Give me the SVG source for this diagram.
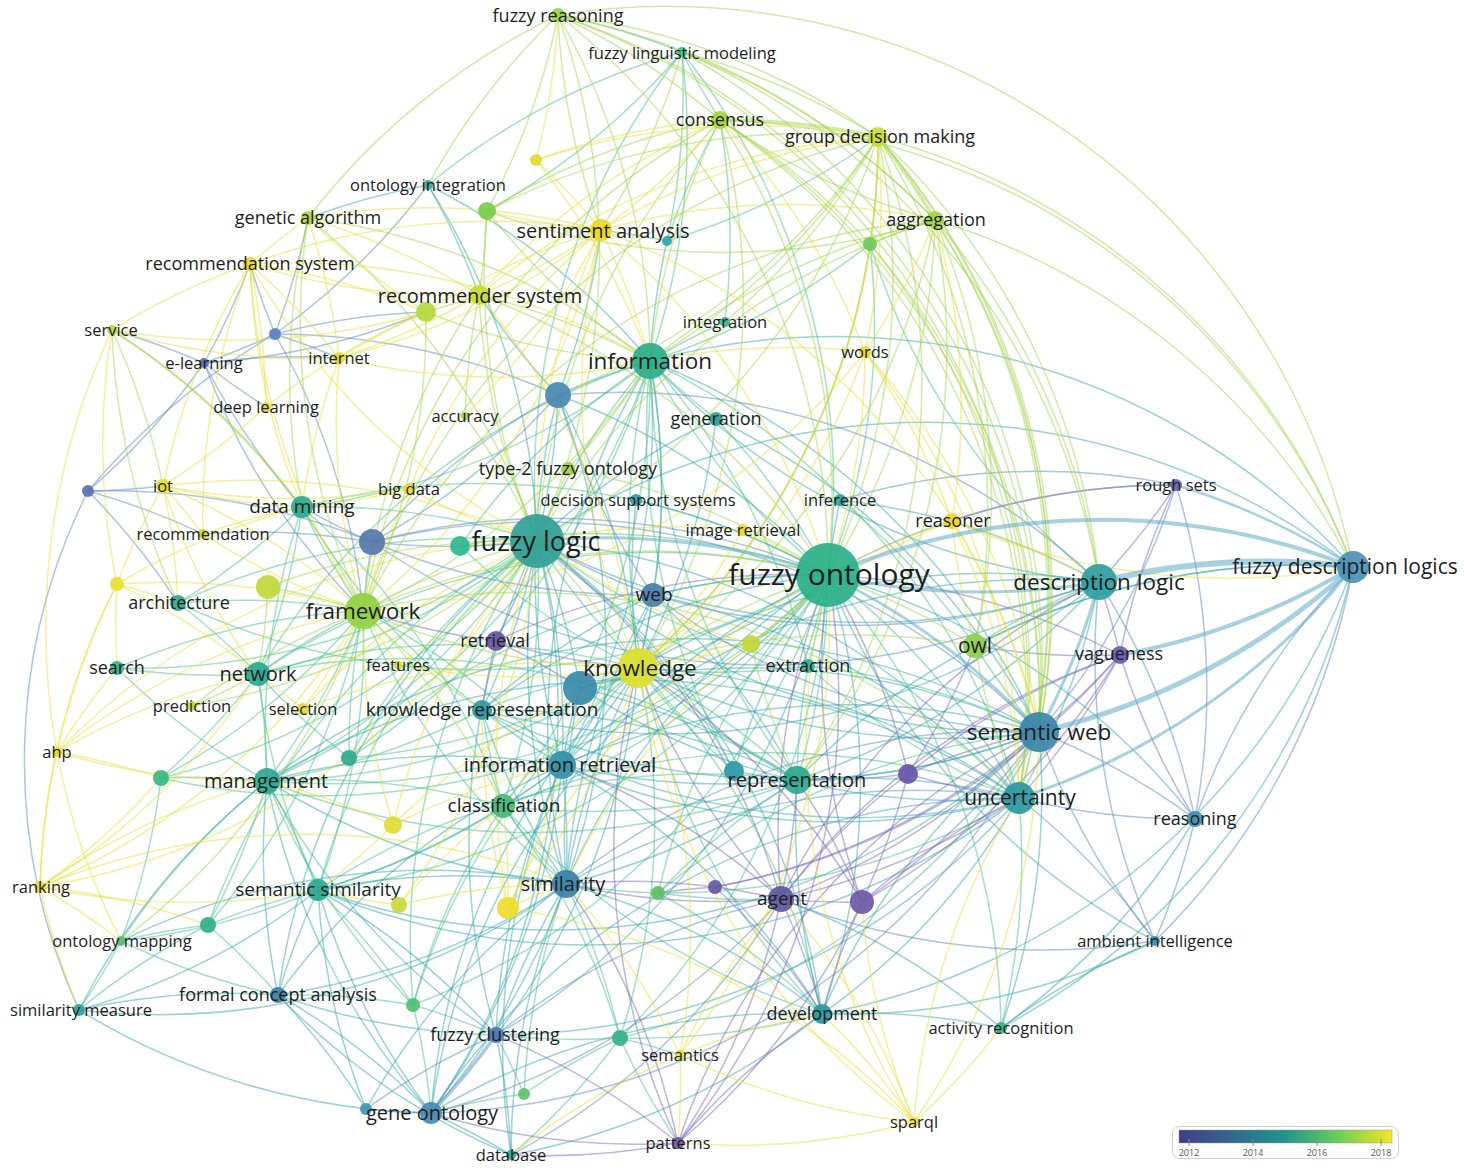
<svg xmlns="http://www.w3.org/2000/svg" width="1464" height="1175" viewBox="0 0 1464 1175">
<defs>
<linearGradient id="vir" x1="0" x2="1" y1="0" y2="0">
<stop offset="0" stop-color="#433e85"/><stop offset="0.25" stop-color="#31688e"/><stop offset="0.5" stop-color="#1f968b"/><stop offset="0.75" stop-color="#6ccd5a"/><stop offset="1" stop-color="#f6e620"/>
</linearGradient>
<style>
text{font-family:"Open Sans","Noto Sans","DejaVu Sans",sans-serif;fill:#1e1e1e;text-anchor:middle;dominant-baseline:central}
.s17{font-size:16.5px}.s18{font-size:18px}.s19{font-size:19px}.s20{font-size:20px}.s21{font-size:21px}.s22{font-size:22.5px}.s27{font-size:27px}.s30{font-size:30px}
#edges path{fill:none;stroke-width:1.5;stroke-opacity:.5}
#edges .p path{stroke:#7c6cbc}#edges .b path{stroke:#5d8cc2}#edges .t path{stroke:#3aa8ae}#edges .g path{stroke:#4cc28e}#edges .l path{stroke:#a2d650}#edges .y path{stroke:#e6e23c}
#edges .k path{stroke:#5eacc8;stroke-opacity:.55}
circle{fill-opacity:.92}
.leg{font-size:9px;fill:#555}
</style>
</defs>
<rect width="1464" height="1175" fill="#fff"/>
<g id="edges">
<g class="g">
<path d="M828 575A700 700 0 0 1 797 780"/><path d="M828 575A700 700 0 0 1 650 361"/><path d="M716 419A700 700 0 0 1 828 575"/><path d="M828 575A700 700 0 0 1 267 781"/><path d="M258 674A700 700 0 0 1 828 575"/><path d="M302 507A700 700 0 0 1 828 575"/><path d="M828 575A700 700 0 0 1 503 806"/><path d="M828 575A700 700 0 0 1 808 666"/><path d="M682 52A700 700 0 0 1 828 575"/><path d="M870 244A700 700 0 0 1 828 575"/><path d="M828 575A700 700 0 0 1 318 890"/><path d="M828 575A700 700 0 0 1 620 1038"/><path d="M828 575A700 700 0 0 1 1001 1028"/>
<path d="M537 541A700 700 0 0 1 650 361"/><path d="M302 507A700 700 0 0 1 537 541"/><path d="M537 541A700 700 0 0 1 258 674"/><path d="M537 541A700 700 0 0 1 267 781"/><path d="M797 780A700 700 0 0 1 537 541"/><path d="M537 541A700 700 0 0 1 503 806"/><path d="M318 890A700 700 0 0 1 537 541"/><path d="M537 541A700 700 0 0 1 460 546"/><path d="M178 603A700 700 0 0 1 537 541"/><path d="M537 541A700 700 0 0 1 682 52"/><path d="M413 1005A700 700 0 0 1 537 541"/><path d="M537 541A700 700 0 0 1 117 668"/><path d="M349 758A700 700 0 0 1 537 541"/><path d="M537 541A700 700 0 0 1 161 778"/><path d="M208 925A700 700 0 0 1 537 541"/>
<path d="M650 361A700 700 0 0 1 638 668"/><path d="M682 52A700 700 0 0 1 650 361"/><path d="M650 361A700 700 0 0 1 725 322"/><path d="M716 419A700 700 0 0 1 650 361"/><path d="M650 361A700 700 0 0 1 302 507"/><path d="M797 780A700 700 0 0 1 650 361"/><path d="M650 361A700 700 0 0 1 1019 798"/><path d="M870 244A700 700 0 0 1 650 361"/><path d="M650 361A700 700 0 0 1 267 781"/><path d="M258 674A700 700 0 0 1 650 361"/><path d="M650 361A700 700 0 0 1 503 806"/><path d="M822 1014A700 700 0 0 1 650 361"/>
<path d="M638 668A700 700 0 0 1 797 780"/><path d="M482 710A700 700 0 0 1 638 668"/><path d="M638 668A700 700 0 0 1 267 781"/><path d="M258 674A700 700 0 0 1 638 668"/><path d="M638 668A700 700 0 0 1 822 1014"/><path d="M808 666A700 700 0 0 1 638 668"/><path d="M638 668A700 700 0 0 1 620 1038"/>
<path d="M1039 732A700 700 0 0 1 975 646"/><path d="M975 646A700 700 0 0 1 1099 582"/><path d="M1099 582A700 700 0 0 1 870 244"/><path d="M1019 798A700 700 0 0 1 1001 1028"/><path d="M503 806A700 700 0 0 1 1019 798"/>
<path d="M363 611A700 700 0 0 1 302 507"/><path d="M258 674A700 700 0 0 1 363 611"/><path d="M363 611A700 700 0 0 1 267 781"/><path d="M178 603A700 700 0 0 1 363 611"/><path d="M363 611A700 700 0 0 1 562 765"/><path d="M566 884A700 700 0 0 1 363 611"/><path d="M363 611A700 700 0 0 1 318 890"/><path d="M117 668A700 700 0 0 1 363 611"/><path d="M363 611A700 700 0 0 1 161 778"/><path d="M349 758A700 700 0 0 1 363 611"/><path d="M363 611A700 700 0 0 1 208 925"/>
<path d="M302 507A700 700 0 0 1 258 674"/><path d="M267 781A700 700 0 0 1 302 507"/><path d="M302 507A700 700 0 0 1 178 603"/><path d="M482 710A700 700 0 0 1 302 507"/><path d="M302 507A700 700 0 0 1 503 806"/><path d="M258 674A700 700 0 0 1 267 781"/><path d="M178 603A700 700 0 0 1 258 674"/><path d="M258 674A700 700 0 0 1 117 668"/><path d="M318 890A700 700 0 0 1 258 674"/><path d="M258 674A700 700 0 0 1 161 778"/><path d="M349 758A700 700 0 0 1 258 674"/>
<path d="M267 781A700 700 0 0 1 318 890"/><path d="M161 778A700 700 0 0 1 267 781"/><path d="M267 781A700 700 0 0 1 208 925"/><path d="M121 941A700 700 0 0 1 267 781"/><path d="M267 781A700 700 0 0 1 503 806"/><path d="M482 710A700 700 0 0 1 267 781"/><path d="M267 781A700 700 0 0 1 117 668"/><path d="M413 1005A700 700 0 0 1 267 781"/>
<path d="M318 890A700 700 0 0 1 121 941"/><path d="M208 925A700 700 0 0 1 318 890"/><path d="M318 890A700 700 0 0 1 413 1005"/><path d="M503 806A700 700 0 0 1 318 890"/><path d="M566 884A700 700 0 0 1 620 1038"/><path d="M524 1094A700 700 0 0 1 566 884"/><path d="M566 884A700 700 0 0 1 503 806"/><path d="M658 893A700 700 0 0 1 566 884"/><path d="M562 765A700 700 0 0 1 503 806"/><path d="M797 780A700 700 0 0 1 808 666"/><path d="M658 893A700 700 0 0 1 797 780"/>
<path d="M720 120A700 700 0 0 1 682 52"/><path d="M667 241A700 700 0 0 1 720 120"/><path d="M720 120A700 700 0 0 1 725 322"/><path d="M878 137A700 700 0 0 1 667 241"/><path d="M558 15A700 700 0 0 1 682 52"/><path d="M682 52A700 700 0 0 1 487 211"/><path d="M428 185A700 700 0 0 1 682 52"/><path d="M682 52A700 700 0 0 1 667 241"/><path d="M601 230A700 700 0 0 1 667 241"/>
<path d="M121 941A700 700 0 0 1 79 1010"/><path d="M278 995A700 700 0 0 1 121 941"/><path d="M121 941A700 700 0 0 1 208 925"/><path d="M161 778A700 700 0 0 1 121 941"/><path d="M79 1010A700 700 0 0 1 208 925"/><path d="M278 995A700 700 0 0 1 413 1005"/><path d="M208 925A700 700 0 0 1 278 995"/><path d="M496 1035A700 700 0 0 1 524 1094"/><path d="M413 1005A700 700 0 0 1 496 1035"/><path d="M620 1038A700 700 0 0 1 496 1035"/><path d="M431 1113A700 700 0 0 1 524 1094"/><path d="M413 1005A700 700 0 0 1 431 1113"/><path d="M620 1038A700 700 0 0 1 680 1055"/><path d="M678 1143A700 700 0 0 1 620 1038"/><path d="M620 1038A700 700 0 0 1 511 1155"/><path d="M524 1094A700 700 0 0 1 620 1038"/><path d="M840 500A700 700 0 0 1 975 646"/><path d="M822 1014A700 700 0 0 1 620 1038"/><path d="M781 899A700 700 0 0 1 658 893"/>
<path d="M658 893A700 700 0 0 1 828 575"/><path d="M828 575A700 700 0 0 1 413 1005"/><path d="M460 546A700 700 0 0 1 828 575"/><path d="M828 575A700 700 0 0 1 161 778"/><path d="M349 758A700 700 0 0 1 828 575"/><path d="M828 575A700 700 0 0 1 178 603"/><path d="M650 361A700 700 0 0 1 349 758"/><path d="M460 546A700 700 0 0 1 650 361"/><path d="M638 668A700 700 0 0 1 460 546"/><path d="M413 1005A700 700 0 0 1 638 668"/><path d="M638 668A700 700 0 0 1 349 758"/><path d="M797 780A700 700 0 0 1 267 781"/><path d="M258 674A700 700 0 0 1 797 780"/><path d="M797 780A700 700 0 0 1 503 806"/><path d="M318 890A700 700 0 0 1 797 780"/><path d="M503 806A700 700 0 0 1 482 710"/><path d="M413 1005A700 700 0 0 1 503 806"/><path d="M503 806A700 700 0 0 1 620 1038"/><path d="M1019 798A700 700 0 0 1 658 893"/><path d="M658 893A700 700 0 0 1 1039 732"/><path d="M1039 732A700 700 0 0 1 620 1038"/><path d="M822 1014A700 700 0 0 1 503 806"/><path d="M658 893A700 700 0 0 1 822 1014"/><path d="M734 771A700 700 0 0 1 638 668"/><path d="M537 541A700 700 0 0 1 734 771"/><path d="M734 771A700 700 0 0 1 650 361"/><path d="M808 666A700 700 0 0 1 537 541"/><path d="M650 361A700 700 0 0 1 808 666"/><path d="M808 666A700 700 0 0 1 1039 732"/><path d="M1019 798A700 700 0 0 1 808 666"/>
</g>
<g class="t">
<path d="M653 595A700 700 0 0 1 828 575"/><path d="M828 575A700 700 0 0 1 822 1014"/><path d="M566 884A700 700 0 0 1 828 575"/><path d="M828 575A700 700 0 0 1 562 765"/><path d="M482 710A700 700 0 0 1 828 575"/><path d="M828 575A700 700 0 0 1 1195 819"/><path d="M1155 941A700 700 0 0 1 828 575"/><path d="M558 395A700 700 0 0 1 828 575"/><path d="M828 575A700 700 0 0 1 580 688"/><path d="M828 575A700 700 0 0 1 840 500"/><path d="M431 1113A700 700 0 0 1 828 575"/><path d="M828 575A700 700 0 0 1 496 1035"/><path d="M734 771A700 700 0 0 1 828 575"/><path d="M828 575A700 700 0 0 1 1019 798"/>
<path d="M537 541A700 700 0 0 1 562 765"/><path d="M566 884A700 700 0 0 1 537 541"/><path d="M537 541A700 700 0 0 1 482 710"/><path d="M1039 732A700 700 0 0 1 537 541"/><path d="M537 541A700 700 0 0 1 1019 798"/><path d="M1099 582A700 700 0 0 1 537 541"/><path d="M537 541A700 700 0 0 1 822 1014"/><path d="M558 395A700 700 0 0 1 537 541"/><path d="M537 541A700 700 0 0 1 580 688"/><path d="M496 1035A700 700 0 0 1 537 541"/><path d="M537 541A700 700 0 0 1 431 1113"/><path d="M278 995A700 700 0 0 1 537 541"/><path d="M428 185A700 700 0 0 1 537 541"/>
<path d="M650 361A700 700 0 0 1 667 241"/><path d="M558 395A700 700 0 0 1 650 361"/><path d="M650 361A700 700 0 0 1 1039 732"/><path d="M1099 582A700 700 0 0 1 650 361"/><path d="M650 361A700 700 0 0 1 562 765"/><path d="M566 884A700 700 0 0 1 650 361"/><path d="M650 361A700 700 0 0 1 653 595"/><path d="M428 185A700 700 0 0 1 650 361"/>
<path d="M638 668A700 700 0 0 1 562 765"/><path d="M1039 732A700 700 0 0 1 638 668"/><path d="M638 668A700 700 0 0 1 1019 798"/><path d="M566 884A700 700 0 0 1 638 668"/><path d="M653 595A700 700 0 0 1 638 668"/><path d="M638 668A700 700 0 0 1 580 688"/><path d="M638 668A700 700 0 0 1 1099 582"/><path d="M431 1113A700 700 0 0 1 638 668"/><path d="M638 668A700 700 0 0 1 496 1035"/>
<path d="M1039 732A700 700 0 0 1 797 780"/><path d="M822 1014A700 700 0 0 1 1039 732"/><path d="M1039 732A700 700 0 0 1 1001 1028"/><path d="M562 765A700 700 0 0 1 1039 732"/><path d="M1039 732A700 700 0 0 1 482 710"/><path d="M267 781A700 700 0 0 1 1039 732"/><path d="M1039 732A700 700 0 0 1 318 890"/>
<path d="M1099 582A700 700 0 0 1 1019 798"/><path d="M840 500A700 700 0 0 1 1099 582"/><path d="M1099 582A700 700 0 0 1 482 710"/><path d="M562 765A700 700 0 0 1 1099 582"/><path d="M1099 582A700 700 0 0 1 797 780"/>
<path d="M975 646A700 700 0 0 1 1353 567"/><path d="M1353 567A700 700 0 0 0 650 361"/><path d="M1353 567A700 700 0 0 0 537 541"/><path d="M797 780A700 700 0 0 1 1353 567"/><path d="M1353 567A700 700 0 0 1 1001 1028"/><path d="M1353 567A700 700 0 0 1 822 1014"/>
<path d="M1019 798A700 700 0 0 1 822 1014"/><path d="M797 780A700 700 0 0 1 1019 798"/><path d="M1019 798A700 700 0 0 1 562 765"/><path d="M566 884A700 700 0 0 1 1019 798"/><path d="M1019 798A700 700 0 0 1 482 710"/><path d="M267 781A700 700 0 0 1 1019 798"/><path d="M1019 798A700 700 0 0 1 318 890"/><path d="M431 1113A700 700 0 0 1 1019 798"/><path d="M1019 798A700 700 0 0 1 496 1035"/>
<path d="M267 781A700 700 0 0 0 79 1010"/><path d="M278 995A700 700 0 0 1 267 781"/><path d="M267 781A700 700 0 0 1 562 765"/><path d="M566 884A700 700 0 0 1 267 781"/><path d="M267 781A700 700 0 0 0 431 1113"/><path d="M496 1035A700 700 0 0 1 267 781"/>
<path d="M318 890A700 700 0 0 1 566 884"/><path d="M278 995A700 700 0 0 1 318 890"/><path d="M318 890A700 700 0 0 1 79 1010"/><path d="M431 1113A700 700 0 0 1 318 890"/><path d="M318 890A700 700 0 0 1 496 1035"/><path d="M562 765A700 700 0 0 1 318 890"/><path d="M366 1109A700 700 0 0 1 318 890"/>
<path d="M566 884A700 700 0 0 1 278 995"/><path d="M496 1035A700 700 0 0 1 566 884"/><path d="M566 884A700 700 0 0 1 431 1113"/><path d="M511 1155A700 700 0 0 1 566 884"/><path d="M566 884A700 700 0 0 1 822 1014"/><path d="M562 765A700 700 0 0 1 566 884"/><path d="M797 780A700 700 0 0 1 566 884"/><path d="M566 884A700 700 0 0 1 79 1010"/><path d="M121 941A700 700 0 0 1 566 884"/><path d="M566 884A700 700 0 0 1 482 710"/><path d="M366 1109A700 700 0 0 1 566 884"/>
<path d="M562 765A700 700 0 0 1 482 710"/><path d="M797 780A700 700 0 0 1 562 765"/><path d="M562 765A700 700 0 0 1 580 688"/><path d="M496 1035A700 700 0 0 1 562 765"/><path d="M562 765A700 700 0 0 1 431 1113"/><path d="M511 1155A700 700 0 0 1 562 765"/><path d="M562 765A700 700 0 0 1 822 1014"/><path d="M278 995A700 700 0 0 1 562 765"/>
<path d="M781 899A700 700 0 0 1 1001 1028"/><path d="M822 1014A700 700 0 0 1 1001 1028"/><path d="M1155 941A700 700 0 0 1 822 1014"/><path d="M822 1014A700 700 0 0 1 797 780"/><path d="M431 1113A700 700 0 0 1 822 1014"/><path d="M822 1014A700 700 0 0 1 511 1155"/><path d="M797 780A700 700 0 0 1 734 771"/><path d="M482 710A700 700 0 0 1 797 780"/>
<path d="M308 218A700 700 0 0 1 428 185"/><path d="M428 185A700 700 0 0 1 479 295"/><path d="M601 230A700 700 0 0 1 558 395"/><path d="M558 395A700 700 0 0 1 479 295"/>
<path d="M79 1010A700 700 0 0 1 278 995"/><path d="M79 1010A700 700 0 0 0 431 1113"/><path d="M278 995A700 700 0 0 1 431 1113"/><path d="M496 1035A700 700 0 0 1 278 995"/><path d="M278 995A700 700 0 0 1 366 1109"/><path d="M511 1155A700 700 0 0 1 278 995"/><path d="M496 1035A700 700 0 0 1 511 1155"/><path d="M431 1113A700 700 0 0 1 511 1155"/><path d="M1001 1028A700 700 0 0 1 1155 941"/><path d="M1195 819A700 700 0 0 1 1001 1028"/>
<path d="M580 688A700 700 0 0 1 1039 732"/><path d="M1019 798A700 700 0 0 1 580 688"/><path d="M580 688A700 700 0 0 1 797 780"/><path d="M566 884A700 700 0 0 1 580 688"/><path d="M558 395A700 700 0 0 1 638 668"/><path d="M562 765A700 700 0 0 1 558 395"/><path d="M558 395A700 700 0 0 1 566 884"/><path d="M653 595A700 700 0 0 1 797 780"/><path d="M566 884A700 700 0 0 1 653 595"/><path d="M653 595A700 700 0 0 1 562 765"/><path d="M482 710A700 700 0 0 1 653 595"/><path d="M653 595A700 700 0 0 1 1019 798"/><path d="M636 500A700 700 0 0 1 828 575"/><path d="M638 668A700 700 0 0 1 636 500"/><path d="M716 419A700 700 0 0 1 638 668"/><path d="M537 541A700 700 0 0 1 716 419"/><path d="M716 419A700 700 0 0 1 1039 732"/>
</g>
<g class="b">
<path d="M828 575A700 700 0 0 1 1176 485"/><path d="M372 542A700 700 0 0 1 828 575"/><path d="M537 541A700 700 0 0 1 372 542"/><path d="M653 595A700 700 0 0 1 537 541"/><path d="M1039 732A700 700 0 0 1 1195 819"/><path d="M1155 941A700 700 0 0 1 1039 732"/><path d="M1039 732A700 700 0 0 0 1176 485"/><path d="M566 884A700 700 0 0 1 1039 732"/><path d="M1039 732A700 700 0 0 1 653 595"/><path d="M372 542A700 700 0 0 1 1039 732"/><path d="M1039 732A700 700 0 0 1 431 1113"/>
<path d="M1099 582A700 700 0 0 1 1195 819"/><path d="M1155 941A700 700 0 0 1 1099 582"/><path d="M1099 582A700 700 0 0 1 653 595"/><path d="M558 395A700 700 0 0 1 1099 582"/><path d="M1099 582A700 700 0 0 1 372 542"/><path d="M1195 819A700 700 0 0 1 1353 567"/><path d="M1353 567A700 700 0 0 1 1155 941"/><path d="M1195 819A700 700 0 0 1 1019 798"/><path d="M1019 798A700 700 0 0 1 1155 941"/>
<path d="M363 611A700 700 0 0 1 372 542"/><path d="M372 542A700 700 0 0 1 302 507"/><path d="M302 507A700 700 0 0 1 204 363"/><path d="M1155 941A700 700 0 0 1 781 899"/><path d="M781 899A700 700 0 0 1 431 1113"/><path d="M496 1035A700 700 0 0 1 781 899"/><path d="M781 899A700 700 0 0 1 511 1155"/><path d="M366 1109A700 700 0 0 1 496 1035"/><path d="M431 1113A700 700 0 0 1 366 1109"/><path d="M1195 819A700 700 0 0 1 1155 941"/><path d="M1176 485A700 700 0 0 1 1195 819"/><path d="M840 500A700 700 0 0 1 1176 485"/>
<path d="M275 334A700 700 0 0 1 204 363"/><path d="M88 491A700 700 0 0 1 275 334"/><path d="M275 334A700 700 0 0 1 339 358"/><path d="M428 185A700 700 0 0 1 275 334"/><path d="M275 334A700 700 0 0 1 558 395"/><path d="M204 363A700 700 0 0 1 88 491"/><path d="M266 407A700 700 0 0 1 204 363"/><path d="M204 363A700 700 0 0 1 339 358"/><path d="M112 330A700 700 0 0 1 204 363"/><path d="M88 491A700 700 0 0 1 203 534"/><path d="M163 486A700 700 0 0 1 88 491"/><path d="M88 491A700 700 0 0 1 372 542"/><path d="M88 491A700 700 0 0 1 178 603"/><path d="M88 491A600 600 0 0 0 79 1010"/>
<path d="M426 312A700 700 0 0 1 204 363"/><path d="M275 334A700 700 0 0 1 426 312"/><path d="M250 264A700 700 0 0 1 204 363"/><path d="M275 334A700 700 0 0 1 250 264"/><path d="M308 218A700 700 0 0 1 275 334"/><path d="M363 611A700 700 0 0 1 204 363"/><path d="M275 334A700 700 0 0 1 363 611"/><path d="M372 542A700 700 0 0 1 558 395"/><path d="M653 595A700 700 0 0 1 372 542"/><path d="M203 534A700 700 0 0 1 372 542"/><path d="M653 595A700 700 0 0 1 558 395"/><path d="M558 395A700 700 0 0 1 372 542"/>
<path d="M496 1035A700 700 0 0 1 431 1113" style="stroke-width:3.5"/>
</g>
<g class="p">
<path d="M828 575A700 700 0 0 1 1120 655"/><path d="M781 899A700 700 0 0 1 828 575"/><path d="M828 575A700 700 0 0 1 908 774"/><path d="M862 902A700 700 0 0 1 828 575"/><path d="M828 575A700 700 0 0 1 678 1143"/><path d="M496 641A700 700 0 0 1 828 575"/><path d="M537 541A700 700 0 0 1 781 899"/><path d="M781 899A700 700 0 0 1 638 668"/><path d="M638 668A700 700 0 0 1 496 641"/><path d="M678 1143A700 700 0 0 1 638 668"/><path d="M638 668A700 700 0 0 1 862 902"/>
<path d="M1120 655A700 700 0 0 1 1039 732"/><path d="M1039 732A700 700 0 0 1 781 899"/><path d="M908 774A700 700 0 0 1 1039 732"/><path d="M1039 732A700 700 0 0 1 862 902"/><path d="M678 1143A700 700 0 0 1 1039 732"/><path d="M1099 582A700 700 0 0 1 1120 655"/><path d="M1176 485A700 700 0 0 1 1099 582"/><path d="M781 899A700 700 0 0 1 1099 582"/><path d="M1019 798A700 700 0 0 1 781 899"/><path d="M1120 655A700 700 0 0 1 1019 798"/><path d="M1019 798A700 700 0 0 1 908 774"/><path d="M862 902A700 700 0 0 1 1019 798"/>
<path d="M566 884A700 700 0 0 1 678 1143"/><path d="M781 899A700 700 0 0 1 566 884"/><path d="M566 884A700 700 0 0 1 715 887"/><path d="M562 765A700 700 0 0 1 781 899"/><path d="M781 899A700 700 0 0 1 822 1014"/><path d="M862 902A700 700 0 0 1 781 899"/><path d="M715 887A700 700 0 0 1 781 899"/><path d="M781 899A700 700 0 0 1 678 1143"/><path d="M797 780A700 700 0 0 1 781 899"/><path d="M781 899A700 700 0 0 1 908 774"/><path d="M908 774A700 700 0 0 1 797 780"/><path d="M797 780A700 700 0 0 1 862 902"/><path d="M678 1143A700 700 0 0 1 822 1014"/><path d="M822 1014A700 700 0 0 1 862 902"/><path d="M496 1035A700 700 0 0 1 678 1143"/><path d="M431 1113A700 700 0 0 0 678 1143"/><path d="M511 1155A700 700 0 0 0 678 1143"/><path d="M862 902A700 700 0 0 1 678 1143"/>
<path d="M1195 819A700 700 0 0 1 1120 655"/><path d="M1120 655A700 700 0 0 1 1176 485"/><path d="M908 774A700 700 0 0 1 1120 655"/><path d="M1120 655A700 700 0 0 1 975 646"/><path d="M1120 655A700 700 0 0 1 862 902"/><path d="M781 899A700 700 0 0 1 1120 655"/><path d="M975 646A700 700 0 0 1 908 774"/><path d="M952 521A700 700 0 0 1 1176 485"/><path d="M537 541A700 700 0 0 1 496 641"/><path d="M496 641A700 700 0 0 1 580 688"/><path d="M482 710A700 700 0 0 1 496 641"/><path d="M496 641A700 700 0 0 1 363 611"/><path d="M658 893A700 700 0 0 1 715 887"/><path d="M715 887A700 700 0 0 1 822 1014"/><path d="M908 774A700 700 0 0 1 862 902"/><path d="M1039 732A700 700 0 0 1 715 887"/><path d="M1120 655A700 700 0 0 1 715 887"/>
</g>
<g class="l">
<path d="M828 575A700 700 0 0 1 975 646"/><path d="M638 668A700 700 0 0 1 828 575"/><path d="M828 575A700 700 0 0 0 878 137"/><path d="M935 220A700 700 0 0 1 828 575"/><path d="M828 575A700 700 0 0 0 720 120"/><path d="M363 611A700 700 0 0 1 828 575"/><path d="M828 575A700 700 0 0 0 558 15"/><path d="M479 295A700 700 0 0 1 828 575"/><path d="M828 575A700 700 0 0 1 751 644"/>
<path d="M537 541A700 700 0 0 1 638 668"/><path d="M363 611A700 700 0 0 1 537 541"/><path d="M537 541A700 700 0 0 1 479 295"/><path d="M308 218A700 700 0 0 1 537 541"/><path d="M537 541A700 700 0 0 1 720 120"/><path d="M878 137A700 700 0 0 1 537 541"/><path d="M537 541A700 700 0 0 1 935 220"/><path d="M268 587A700 700 0 0 1 537 541"/><path d="M558 15A700 700 0 0 1 537 541"/><path d="M537 541A700 700 0 0 1 487 211"/><path d="M465 416A700 700 0 0 1 537 541"/><path d="M537 541A700 700 0 0 1 192 706"/>
<path d="M650 361A700 700 0 0 1 720 120"/><path d="M878 137A700 700 0 0 1 650 361"/><path d="M650 361A700 700 0 0 1 935 220"/><path d="M558 15A700 700 0 0 1 650 361"/><path d="M650 361A700 700 0 0 1 487 211"/><path d="M479 295A700 700 0 0 1 650 361"/><path d="M650 361A700 700 0 0 1 426 312"/><path d="M308 218A700 700 0 0 1 650 361"/><path d="M650 361A700 700 0 0 1 363 611"/><path d="M638 668A700 700 0 0 1 363 611"/><path d="M503 806A700 700 0 0 1 638 668"/><path d="M638 668A700 700 0 0 1 975 646"/>
<path d="M1039 732A700 700 0 0 0 558 15"/><path d="M1099 582A700 700 0 0 0 878 137"/><path d="M935 220A700 700 0 0 1 1099 582"/><path d="M1019 798A700 700 0 0 1 975 646"/><path d="M363 611A700 700 0 0 1 1019 798"/>
<path d="M268 587A700 700 0 0 1 363 611"/><path d="M363 611A700 700 0 0 1 308 218"/><path d="M426 312A700 700 0 0 1 363 611"/><path d="M363 611A700 700 0 0 1 479 295"/><path d="M482 710A700 700 0 0 1 363 611"/><path d="M363 611A700 700 0 0 1 503 806"/><path d="M192 706A700 700 0 0 1 363 611"/><path d="M363 611A700 700 0 0 1 121 941"/><path d="M112 330A700 700 0 0 1 363 611"/><path d="M302 507A700 700 0 0 1 308 218"/><path d="M112 330A700 700 0 0 1 302 507"/><path d="M258 674A700 700 0 0 1 192 706"/><path d="M268 587A700 700 0 0 1 258 674"/><path d="M797 780A700 700 0 0 1 751 644"/>
<path d="M878 137A700 700 0 0 1 870 244"/><path d="M682 52A700 700 0 0 1 878 137"/><path d="M878 137A700 700 0 0 0 558 15"/><path d="M975 646A700 700 0 0 0 878 137"/><path d="M878 137A700 700 0 0 1 725 322"/><path d="M487 211A700 700 0 0 1 878 137"/><path d="M878 137A700 700 0 0 1 558 395"/><path d="M935 220A700 700 0 0 1 720 120"/><path d="M720 120A700 700 0 0 0 558 15"/><path d="M720 120A700 700 0 0 1 870 244"/><path d="M487 211A700 700 0 0 1 720 120"/><path d="M870 244A700 700 0 0 1 935 220"/><path d="M935 220A700 700 0 0 0 682 52"/><path d="M975 646A700 700 0 0 0 935 220"/><path d="M935 220A700 700 0 0 0 558 15"/><path d="M935 220A700 700 0 0 1 487 211"/>
<path d="M558 15A700 700 0 0 1 487 211"/><path d="M428 185A700 700 0 0 1 558 15"/><path d="M558 15A700 700 0 0 0 308 218"/><path d="M601 230A700 700 0 0 1 558 15"/><path d="M682 52A700 700 0 0 1 601 230"/><path d="M479 295A700 700 0 0 1 426 312"/><path d="M487 211A700 700 0 0 1 479 295"/><path d="M465 416A700 700 0 0 1 479 295"/><path d="M112 330A700 700 0 0 1 163 486"/><path d="M178 603A700 700 0 0 1 112 330"/><path d="M1353 567A700 700 0 0 0 878 137"/><path d="M1353 567A700 700 0 0 0 558 15"/><path d="M568 469A700 700 0 0 1 537 541"/><path d="M650 361A700 700 0 0 1 568 469"/><path d="M568 469A700 700 0 0 1 828 575"/>
<path d="M878 137A700 700 0 0 1 1039 732"/><path d="M878 137A700 700 0 0 1 1019 798"/><path d="M935 220A700 700 0 0 1 1039 732"/><path d="M935 220A700 700 0 0 1 1019 798"/><path d="M935 220A700 700 0 0 1 1353 567"/><path d="M720 120A700 700 0 0 1 1353 567"/><path d="M935 220A700 700 0 0 1 797 780"/><path d="M878 137A700 700 0 0 1 797 780"/><path d="M720 120A700 700 0 0 1 638 668"/><path d="M720 120A700 700 0 0 0 363 611"/><path d="M878 137A700 700 0 0 0 363 611"/><path d="M935 220A700 700 0 0 0 363 611"/><path d="M878 137A700 700 0 0 1 638 668"/><path d="M935 220A700 700 0 0 1 638 668"/><path d="M720 120A700 700 0 0 1 1019 798"/><path d="M558 15A700 700 0 0 1 1019 798"/><path d="M682 52A700 700 0 0 1 1039 732"/><path d="M682 52A700 700 0 0 1 1099 582"/><path d="M720 120A700 700 0 0 1 1039 732"/><path d="M870 244A700 700 0 0 1 1039 732"/><path d="M870 244A700 700 0 0 1 1019 798"/><path d="M870 244A700 700 0 0 1 638 668"/>
<path d="M720 120A700 700 0 0 1 878 137" style="stroke-width:3.5"/><path d="M878 137A700 700 0 0 1 935 220" style="stroke-width:3.5"/>
</g>
<g class="y">
<path d="M828 575A700 700 0 0 0 601 230"/><path d="M914 1122A700 700 0 0 1 828 575"/><path d="M828 575A700 700 0 0 1 952 521"/><path d="M865 352A700 700 0 0 1 828 575"/><path d="M743 530A700 700 0 0 1 828 575"/><path d="M828 575A700 700 0 0 1 680 1055"/>
<path d="M537 541A700 700 0 0 1 601 230"/><path d="M163 486A700 700 0 0 1 537 541"/><path d="M537 541A700 700 0 0 1 250 264"/><path d="M508 908A700 700 0 0 1 537 541"/><path d="M537 541A700 700 0 0 1 409 489"/><path d="M57 752A700 700 0 0 1 537 541"/><path d="M537 541A700 700 0 0 1 40 887"/>
<path d="M601 230A700 700 0 0 1 650 361"/><path d="M650 361A700 700 0 0 1 865 352"/><path d="M536 160A700 700 0 0 1 650 361"/><path d="M650 361A700 700 0 0 1 339 358"/><path d="M250 264A700 700 0 0 1 650 361"/>
<path d="M638 668A700 700 0 0 1 601 230"/><path d="M878 137A700 700 0 0 1 638 668"/><path d="M751 644A700 700 0 0 1 638 668"/><path d="M638 668A700 700 0 0 1 680 1055"/><path d="M914 1122A700 700 0 0 1 638 668"/><path d="M638 668A700 700 0 0 1 508 908"/><path d="M393 825A700 700 0 0 1 638 668"/><path d="M638 668A700 700 0 0 1 398 665"/><path d="M303 709A700 700 0 0 1 638 668"/>
<path d="M952 521A700 700 0 0 1 1039 732"/><path d="M1039 732A700 700 0 0 1 914 1122"/><path d="M1099 582A700 700 0 0 0 952 521"/><path d="M952 521A700 700 0 0 0 1353 567"/><path d="M1019 798A700 700 0 0 0 952 521"/><path d="M914 1122A700 700 0 0 1 1019 798"/>
<path d="M163 486A700 700 0 0 1 363 611"/><path d="M363 611A700 700 0 0 1 250 264"/><path d="M601 230A700 700 0 0 1 363 611"/><path d="M363 611A700 700 0 0 1 203 534"/><path d="M117 584A700 700 0 0 1 363 611"/><path d="M363 611A700 700 0 0 1 303 709"/><path d="M393 825A700 700 0 0 1 363 611"/><path d="M363 611A700 700 0 0 1 339 358"/><path d="M57 752A700 700 0 0 1 363 611"/><path d="M363 611A700 700 0 0 1 40 887"/><path d="M398 665A700 700 0 0 1 363 611"/><path d="M363 611A700 700 0 0 1 409 489"/>
<path d="M302 507A700 700 0 0 1 163 486"/><path d="M203 534A700 700 0 0 1 302 507"/><path d="M302 507A700 700 0 0 1 250 264"/><path d="M409 489A700 700 0 0 1 302 507"/><path d="M302 507A700 700 0 0 1 339 358"/><path d="M117 584A700 700 0 0 1 302 507"/><path d="M258 674A700 700 0 0 1 303 709"/><path d="M117 584A700 700 0 0 1 258 674"/><path d="M258 674A700 700 0 0 1 163 486"/><path d="M57 752A700 700 0 0 1 258 674"/><path d="M258 674A700 700 0 0 1 40 887"/>
<path d="M267 781A700 700 0 0 1 57 752"/><path d="M40 887A700 700 0 0 1 267 781"/><path d="M267 781A700 700 0 0 1 393 825"/><path d="M318 890A700 700 0 0 1 40 887"/><path d="M399 905A700 700 0 0 1 318 890"/><path d="M566 884A700 700 0 0 1 680 1055"/><path d="M508 908A700 700 0 0 1 566 884"/><path d="M40 887A700 700 0 0 1 566 884"/><path d="M562 765A700 700 0 0 1 508 908"/><path d="M393 825A700 700 0 0 1 562 765"/>
<path d="M781 899A700 700 0 0 1 914 1122"/><path d="M680 1055A700 700 0 0 1 781 899"/><path d="M822 1014A700 700 0 0 1 914 1122"/><path d="M680 1055A700 700 0 0 1 822 1014"/>
<path d="M601 230A700 700 0 0 1 878 137"/><path d="M878 137A700 700 0 0 1 865 352"/><path d="M878 137A700 700 0 0 0 536 160"/><path d="M479 295A700 700 0 0 1 878 137"/><path d="M720 120A700 700 0 0 1 601 230"/><path d="M536 160A700 700 0 0 1 720 120"/><path d="M720 120A700 700 0 0 1 865 352"/><path d="M479 295A700 700 0 0 1 720 120"/><path d="M935 220A700 700 0 0 1 865 352"/><path d="M601 230A700 700 0 0 1 935 220"/><path d="M935 220A700 700 0 0 1 952 521"/><path d="M558 15A700 700 0 0 1 536 160"/>
<path d="M601 230A700 700 0 0 1 479 295"/><path d="M426 312A700 700 0 0 1 601 230"/><path d="M601 230A700 700 0 0 1 487 211"/><path d="M536 160A700 700 0 0 1 601 230"/><path d="M601 230A700 700 0 0 0 250 264"/><path d="M308 218A700 700 0 0 1 601 230"/><path d="M601 230A700 700 0 0 1 339 358"/><path d="M409 489A700 700 0 0 1 601 230"/><path d="M601 230A700 700 0 0 1 465 416"/>
<path d="M479 295A700 700 0 0 1 250 264"/><path d="M308 218A700 700 0 0 1 479 295"/><path d="M479 295A700 700 0 0 1 339 358"/><path d="M250 264A700 700 0 0 1 426 312"/><path d="M426 312A700 700 0 0 1 308 218"/><path d="M339 358A700 700 0 0 1 426 312"/><path d="M426 312A700 700 0 0 1 112 330"/><path d="M266 407A700 700 0 0 1 426 312"/><path d="M250 264A700 700 0 0 1 308 218"/><path d="M112 330A700 700 0 0 1 250 264"/><path d="M250 264A700 700 0 0 1 339 358"/><path d="M163 486A700 700 0 0 1 250 264"/><path d="M250 264A700 700 0 0 1 266 407"/><path d="M203 534A700 700 0 0 1 250 264"/><path d="M308 218A700 700 0 0 1 339 358"/>
<path d="M112 330A700 700 0 0 0 117 584"/><path d="M339 358A700 700 0 0 1 112 330"/><path d="M57 752A700 700 0 0 1 112 330"/><path d="M163 486A700 700 0 0 1 203 534"/><path d="M117 584A700 700 0 0 1 163 486"/><path d="M163 486A700 700 0 0 1 178 603"/><path d="M266 407A700 700 0 0 1 163 486"/><path d="M409 489A700 700 0 0 1 163 486"/><path d="M117 584A700 700 0 0 1 178 603"/><path d="M57 752A700 700 0 0 1 117 584"/><path d="M117 584A700 700 0 0 0 40 887"/><path d="M117 668A700 700 0 0 1 117 584"/><path d="M40 887A700 700 0 0 1 57 752"/><path d="M57 752A700 700 0 0 1 161 778"/><path d="M121 941A700 700 0 0 1 57 752"/><path d="M57 752A700 700 0 0 1 117 668"/><path d="M40 887A700 700 0 0 1 121 941"/><path d="M79 1010A700 700 0 0 1 40 887"/><path d="M161 778A700 700 0 0 1 40 887"/><path d="M40 887A700 700 0 0 1 208 925"/>
<path d="M680 1055A700 700 0 0 1 678 1143"/><path d="M914 1122A700 700 0 0 1 680 1055"/><path d="M511 1155A700 700 0 0 1 680 1055"/><path d="M678 1143A700 700 0 0 0 914 1122"/><path d="M914 1122A700 700 0 0 1 862 902"/><path d="M1001 1028A700 700 0 0 1 914 1122"/><path d="M975 646A700 700 0 0 1 952 521"/><path d="M751 644A700 700 0 0 1 952 521"/><path d="M508 908A700 700 0 0 1 482 710"/><path d="M503 806A700 700 0 0 1 508 908"/><path d="M399 905A700 700 0 0 1 503 806"/><path d="M393 825A700 700 0 0 1 318 890"/><path d="M508 908A700 700 0 0 1 914 1122"/>
<path d="M865 352A700 700 0 0 1 1039 732"/><path d="M865 352A700 700 0 0 1 1019 798"/><path d="M865 352A700 700 0 0 1 363 611"/><path d="M865 352A700 700 0 0 1 638 668"/><path d="M865 352A700 700 0 0 1 952 521"/><path d="M601 230A700 700 0 0 1 1039 732"/><path d="M479 295A700 700 0 0 1 638 668"/><path d="M743 530A700 700 0 0 1 638 668"/><path d="M537 541A700 700 0 0 1 743 530"/><path d="M508 908A700 700 0 0 1 828 575"/><path d="M751 644A700 700 0 0 1 537 541"/><path d="M566 884A700 700 0 0 1 751 644"/><path d="M303 709A700 700 0 0 1 537 541"/><path d="M537 541A700 700 0 0 1 398 665"/><path d="M393 825A700 700 0 0 1 537 541"/><path d="M399 905A700 700 0 0 1 566 884"/><path d="M537 541A700 700 0 0 1 399 905"/>
</g>
<g class="k">
<path d="M1353 567A700 700 0 0 0 1099 582" style="stroke-width:6"/>
<path d="M1353 567A700 700 0 0 1 1039 732" style="stroke-width:5"/>
<path d="M1353 567A700 700 0 0 1 1120 655" style="stroke-width:4"/>
<path d="M1353 567A700 700 0 0 0 828 575" style="stroke-width:4"/>
<path d="M1353 567A700 700 0 0 1 1019 798" style="stroke-width:3"/>
<path d="M1353 567A700 700 0 0 0 1176 485" style="stroke-width:2.5"/>
<path d="M828 575A700 700 0 0 0 1099 582" style="stroke-width:3"/>
<path d="M828 575A700 700 0 0 1 1039 732" style="stroke-width:3"/>
<path d="M1099 582A700 700 0 0 1 1039 732" style="stroke-width:3"/>
<path d="M537 541A700 700 0 0 1 828 575" style="stroke-width:3"/>
</g>
</g>
<g id="nodes">
<g id="n-fuzzy-reasoning"><circle cx="558" cy="15" r="7" fill="#98d44a"/><text class="s18" x="558" y="15">fuzzy reasoning</text></g>
<g id="n-fuzzy-linguistic-modeling"><circle cx="682" cy="52" r="5" fill="#3cbf86"/><text class="s17" x="682" y="52">fuzzy linguistic modeling</text></g>
<g id="n-consensus"><circle cx="720" cy="120" r="9" fill="#a8d43c"/><text class="s18" x="720" y="119">consensus</text></g>
<g id="n-group-decision-making"><circle cx="878" cy="137" r="10" fill="#c8dc30"/><text class="s18" x="880" y="136">group decision making</text></g>
<g id="n-y1"><circle cx="536" cy="160" r="6" fill="#e0dc30"/></g>
<g id="n-ontology-integration"><circle cx="428" cy="185" r="5" fill="#3aa8a0"/><text class="s17" x="428" y="184">ontology integration</text></g>
<g id="n-g1"><circle cx="487" cy="211" r="9" fill="#7ccb4c"/></g>
<g id="n-genetic-algorithm"><circle cx="308" cy="218" r="7" fill="#b4d63a"/><text class="s18" x="308" y="217">genetic algorithm</text></g>
<g id="n-sentiment-analysis"><circle cx="601" cy="230" r="11" fill="#ecd824"/><text class="s20" x="603" y="230">sentiment analysis</text></g>
<g id="n-t1"><circle cx="667" cy="241" r="5" fill="#2fa8a0"/></g>
<g id="n-aggregation"><circle cx="935" cy="220" r="9" fill="#a4d23e"/><text class="s18" x="936" y="219">aggregation</text></g>
<g id="n-g2"><circle cx="870" cy="244" r="7" fill="#6cc860"/></g>
<g id="n-recommendation-system"><circle cx="250" cy="264" r="7" fill="#e4d82e"/><text class="s18" x="250" y="263">recommendation system</text></g>
<g id="n-recommender-system"><circle cx="479" cy="295" r="10" fill="#c8dc30"/><circle cx="426" cy="312" r="10" fill="#b4d83e"/><text class="s20" x="480" y="295">recommender system</text></g>
<g id="n-integration"><circle cx="725" cy="322" r="5" fill="#3cb08e"/><text class="s17" x="725" y="321">integration</text></g>
<g id="n-service"><circle cx="112" cy="330" r="5" fill="#b4d840"/><text class="s17" x="111" y="329">service</text></g>
<g id="n-b4"><circle cx="275" cy="334" r="6" fill="#5a80c0"/></g>
<g id="n-e-learning"><circle cx="204" cy="363" r="5" fill="#5c6cb0"/><text class="s17" x="204" y="362">e-learning</text></g>
<g id="n-internet"><circle cx="339" cy="358" r="6" fill="#e6d830"/><text class="s17" x="339" y="357">internet</text></g>
<g id="n-information"><circle cx="650" cy="361" r="18" fill="#2aae88"/><text class="s22" x="650" y="360">information</text></g>
<g id="n-words"><circle cx="865" cy="352" r="6" fill="#e6d830"/><text class="s17" x="865" y="351">words</text></g>
<g id="n-b1"><circle cx="558" cy="395" r="13" fill="#4a88b0"/></g>
<g id="n-deep-learning"><circle cx="266" cy="407" r="5" fill="#e0d830"/><text class="s17" x="266" y="406">deep learning</text></g>
<g id="n-accuracy"><circle cx="465" cy="416" r="4" fill="#9cd448"/><text class="s17" x="465" y="415">accuracy</text></g>
<g id="n-generation"><circle cx="716" cy="419" r="7" fill="#30a098"/><text class="s18" x="716" y="418">generation</text></g>
<g id="n-type-2-fuzzy-ontology"><circle cx="568" cy="469" r="7" fill="#a0d040"/><text class="s18" x="568" y="468">type-2 fuzzy ontology</text></g>
<g id="n-bp"><circle cx="88" cy="491" r="6" fill="#6070b0"/></g>
<g id="n-iot"><circle cx="163" cy="486" r="7" fill="#e6dc2c"/><text class="s17" x="163" y="485">iot</text></g>
<g id="n-big-data"><circle cx="409" cy="489" r="6" fill="#e6d830"/><text class="s17" x="409" y="488">big data</text></g>
<g id="n-data-mining"><circle cx="302" cy="507" r="11" fill="#2aaa8e"/><text class="s19" x="302" y="506">data mining</text></g>
<g id="n-decision-support-systems"><circle cx="636" cy="500" r="6" fill="#2c9aa0"/><text class="s17" x="638" y="499">decision support systems</text></g>
<g id="n-inference"><circle cx="840" cy="500" r="6" fill="#30a0a0"/><text class="s17" x="840" y="499">inference</text></g>
<g id="n-rough-sets"><circle cx="1176" cy="485" r="6" fill="#6a60b0"/><text class="s17" x="1176" y="484">rough sets</text></g>
<g id="n-recommendation"><circle cx="203" cy="534" r="5" fill="#c4d63a"/><text class="s17" x="203" y="533">recommendation</text></g>
<g id="n-b2"><circle cx="372" cy="542" r="13" fill="#5578a8"/></g>
<g id="n-tg1"><circle cx="460" cy="546" r="10" fill="#2cb890"/></g>
<g id="n-fuzzy-logic"><circle cx="537" cy="541" r="27" fill="#30a096"/><text class="s27" x="536" y="540">fuzzy logic</text></g>
<g id="n-image-retrieval"><circle cx="743" cy="530" r="6" fill="#e6dc2c"/><text class="s17" x="743" y="529">image retrieval</text></g>
<g id="n-reasoner"><circle cx="952" cy="521" r="8" fill="#ecd828"/><text class="s18" x="953" y="520">reasoner</text></g>
<g id="n-fuzzy-ontology"><circle cx="828" cy="575" r="32" fill="#2bb088"/><text class="s30" x="829" y="573">fuzzy ontology</text></g>
<g id="n-description-logic"><circle cx="1099" cy="582" r="18" fill="#2f9ea0"/><text class="s22" x="1099" y="581">description logic</text></g>
<g id="n-fuzzy-description-logics"><circle cx="1353" cy="567" r="16" fill="#4a90b6"/><text class="s21" x="1345" y="566">fuzzy description logics</text></g>
<g id="n-y2"><circle cx="117" cy="584" r="7" fill="#e8e030"/></g>
<g id="n-yg1"><circle cx="268" cy="587" r="12" fill="#c0d838"/></g>
<g id="n-architecture"><circle cx="178" cy="603" r="8" fill="#30a890"/><text class="s18" x="179" y="602">architecture</text></g>
<g id="n-framework"><circle cx="363" cy="611" r="18" fill="#92d042"/><text class="s22" x="363" y="610">framework</text></g>
<g id="n-web"><circle cx="653" cy="595" r="12" fill="#4a7eaa"/><text class="s19" x="654" y="594">web</text></g>
<g id="n-retrieval"><circle cx="496" cy="641" r="10" fill="#6656a6"/><text class="s18" x="495" y="640">retrieval</text></g>
<g id="n-yg2"><circle cx="751" cy="644" r="9" fill="#c0d838"/></g>
<g id="n-owl"><circle cx="975" cy="646" r="12" fill="#8ccf42"/><text class="s21" x="975" y="645">owl</text></g>
<g id="n-vagueness"><circle cx="1120" cy="655" r="9" fill="#6a5cb0"/><text class="s18" x="1119" y="653">vagueness</text></g>
<g id="n-search"><circle cx="117" cy="668" r="7" fill="#38b08a"/><text class="s18" x="117" y="667">search</text></g>
<g id="n-network"><circle cx="258" cy="674" r="12" fill="#28a890"/><text class="s20" x="258" y="673">network</text></g>
<g id="n-features"><circle cx="398" cy="665" r="4" fill="#d8d830"/><text class="s17" x="398" y="664">features</text></g>
<g id="n-b3"><circle cx="580" cy="688" r="17" fill="#3a8aa8"/></g>
<g id="n-knowledge"><circle cx="638" cy="668" r="20" fill="#dcdf2c"/><text class="s22" x="640" y="667">knowledge</text></g>
<g id="n-extraction"><circle cx="808" cy="666" r="7" fill="#2cb090"/><text class="s18" x="808" y="665">extraction</text></g>
<g id="n-prediction"><circle cx="192" cy="706" r="5" fill="#c4d63a"/><text class="s17" x="192" y="705">prediction</text></g>
<g id="n-selection"><circle cx="303" cy="709" r="6" fill="#e6d830"/><text class="s17" x="303" y="708">selection</text></g>
<g id="n-knowledge-representation"><circle cx="482" cy="710" r="10" fill="#2a98a0"/><text class="s19" x="482" y="709">knowledge representation</text></g>
<g id="n-semantic-web"><circle cx="1039" cy="732" r="20" fill="#3a86a8"/><text class="s22" x="1039" y="731">semantic web</text></g>
<g id="n-ahp"><circle cx="57" cy="752" r="5" fill="#e6dc2c"/><text class="s17" x="57" y="751">ahp</text></g>
<g id="n-t3"><circle cx="349" cy="758" r="8" fill="#30a890"/></g>
<g id="n-g3"><circle cx="161" cy="778" r="8" fill="#38b880"/></g>
<g id="n-management"><circle cx="267" cy="781" r="13" fill="#2aa890"/><text class="s20" x="266" y="780">management</text></g>
<g id="n-information-retrieval"><circle cx="562" cy="765" r="14" fill="#3290a8"/><text class="s20" x="560" y="764">information retrieval</text></g>
<g id="n-t4"><circle cx="734" cy="771" r="10" fill="#2c98a8"/></g>
<g id="n-representation"><circle cx="797" cy="780" r="14" fill="#2aa890"/><text class="s20" x="797" y="779">representation</text></g>
<g id="n-p1"><circle cx="908" cy="774" r="10" fill="#6656a6"/></g>
<g id="n-uncertainty"><circle cx="1019" cy="798" r="16" fill="#2a98a0"/><text class="s21" x="1020" y="797">uncertainty</text></g>
<g id="n-classification"><circle cx="503" cy="806" r="12" fill="#48b878"/><text class="s19" x="504" y="805">classification</text></g>
<g id="n-y3"><circle cx="393" cy="825" r="9" fill="#e0dc30"/></g>
<g id="n-reasoning"><circle cx="1195" cy="819" r="8" fill="#3a90b0"/><text class="s18" x="1195" y="818">reasoning</text></g>
<g id="n-ranking"><circle cx="40" cy="887" r="6" fill="#e6dc2c"/><text class="s17" x="41" y="886">ranking</text></g>
<g id="n-semantic-similarity"><circle cx="318" cy="890" r="11" fill="#2aa890"/><text class="s19" x="318" y="889">semantic similarity</text></g>
<g id="n-yg3"><circle cx="399" cy="905" r="8" fill="#ccd838"/></g>
<g id="n-similarity"><circle cx="566" cy="884" r="14" fill="#3a80a8"/><text class="s20" x="563" y="883">similarity</text></g>
<g id="n-y4"><circle cx="508" cy="908" r="11" fill="#efdc28"/></g>
<g id="n-g4"><circle cx="658" cy="893" r="7" fill="#5cc060"/></g>
<g id="n-p2"><circle cx="715" cy="887" r="7" fill="#6656a6"/></g>
<g id="n-agent"><circle cx="781" cy="899" r="13" fill="#5c58a0"/><text class="s19" x="782" y="898">agent</text></g>
<g id="n-p3"><circle cx="862" cy="902" r="12" fill="#6e58a8"/></g>
<g id="n-tg2"><circle cx="208" cy="925" r="8" fill="#30b088"/></g>
<g id="n-ontology-mapping"><circle cx="121" cy="941" r="5" fill="#58c070"/><text class="s17" x="122" y="940">ontology mapping</text></g>
<g id="n-ambient-intelligence"><circle cx="1155" cy="941" r="5" fill="#3a90b0"/><text class="s17" x="1155" y="940">ambient intelligence</text></g>
<g id="n-formal-concept-analysis"><circle cx="278" cy="995" r="8" fill="#3a80a8"/><text class="s18" x="278" y="994">formal concept analysis</text></g>
<g id="n-similarity-measure"><circle cx="79" cy="1010" r="6" fill="#30a0a0"/><text class="s17" x="81" y="1009">similarity measure</text></g>
<g id="n-g5"><circle cx="413" cy="1005" r="7" fill="#50c070"/></g>
<g id="n-development"><circle cx="822" cy="1014" r="10" fill="#2a98a0"/><text class="s18" x="822" y="1013">development</text></g>
<g id="n-activity-recognition"><circle cx="1001" cy="1028" r="6" fill="#38b080"/><text class="s17" x="1001" y="1027">activity recognition</text></g>
<g id="n-fuzzy-clustering"><circle cx="496" cy="1035" r="8" fill="#4a78b0"/><text class="s18" x="495" y="1034">fuzzy clustering</text></g>
<g id="n-tg3"><circle cx="620" cy="1038" r="8" fill="#38b088"/></g>
<g id="n-semantics"><circle cx="680" cy="1055" r="5" fill="#e8e030"/><text class="s17" x="680" y="1054">semantics</text></g>
<g id="n-g6"><circle cx="524" cy="1094" r="6" fill="#5cc468"/></g>
<g id="n-gene-ontology"><circle cx="366" cy="1109" r="6" fill="#3a98b0"/><circle cx="431" cy="1113" r="11" fill="#4a88b0"/><text class="s20" x="432" y="1112">gene ontology</text></g>
<g id="n-sparql"><circle cx="914" cy="1122" r="5" fill="#e8e030"/><text class="s17" x="914" y="1121">sparql</text></g>
<g id="n-patterns"><circle cx="678" cy="1143" r="6" fill="#6a5aa8"/><text class="s17" x="678" y="1142">patterns</text></g>
<g id="n-database"><circle cx="511" cy="1155" r="5" fill="#30a898"/><text class="s17" x="511" y="1154">database</text></g>
</g>
<g id="legend">
<rect x="1172.5" y="1126.5" width="226" height="32" rx="7" fill="#fff" stroke="#d0d0d0"/>
<rect x="1179" y="1130" width="213" height="13" fill="url(#vir)" stroke="#999" stroke-width=".5"/>
<g stroke="#888" stroke-width="1"><line x1="1189" y1="1139" x2="1189" y2="1146"/><line x1="1253" y1="1139" x2="1253" y2="1146"/><line x1="1317" y1="1139" x2="1317" y2="1146"/><line x1="1381" y1="1139" x2="1381" y2="1146"/></g>
<text class="leg" x="1189" y="1152">2012</text><text class="leg" x="1253" y="1152">2014</text><text class="leg" x="1317" y="1152">2016</text><text class="leg" x="1381" y="1152">2018</text>
</g>
</svg>
